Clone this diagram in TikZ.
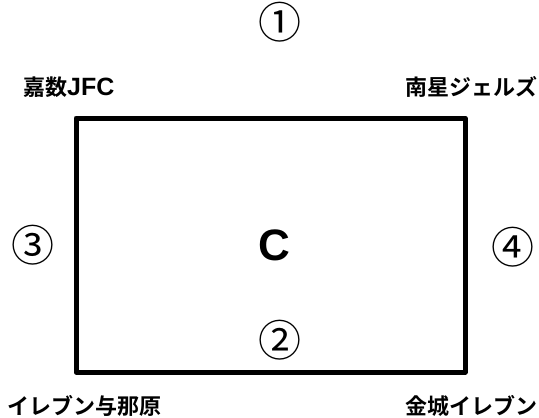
\documentclass[tikz,border=0pt]{standalone}
\usepackage{fontspec}
\newfontfamily\jpb{Noto Sans CJK JP Bold}
\newfontfamily\jpr{Noto Sans CJK JP}
\newfontfamily\arb{Liberation Sans Bold}
\begin{document}
\begin{tikzpicture}[x=1pt,y=-1pt,
  team/.style={inner sep=0pt,font=\jpb\fontsize{22}{22}\selectfont},
  num/.style={inner sep=0pt,font=\jpr\fontsize{43}{43}\selectfont},
  court/.style={draw,line width=5pt,line join=round}]
\useasboundingbox (0,0) rectangle (539,418);
\draw[court] (76,118) rectangle (465,372);
\node[inner sep=0pt,font=\arb\fontsize{44}{44}\selectfont] (c) at (274,245) {C};
\node[num] (n1) at (280,22) {①};
\node[num] (n2) at (280,340) {②};
\node[num] (n3) at (33,245) {③};
\node[num] (n4) at (513,247) {④};
\node[team,anchor=west] (tl) at (23,87) {嘉数{\arb\fontsize{25}{25}\selectfont JFC}};
\node[team,anchor=east] (tr) at (538,87) {南星ジェルズ};
\node[team,anchor=west] (bl) at (7,406) {イレブン与那原};
\node[team,anchor=east] (br) at (538,406) {金城イレブン};
\end{tikzpicture}
\end{document}
